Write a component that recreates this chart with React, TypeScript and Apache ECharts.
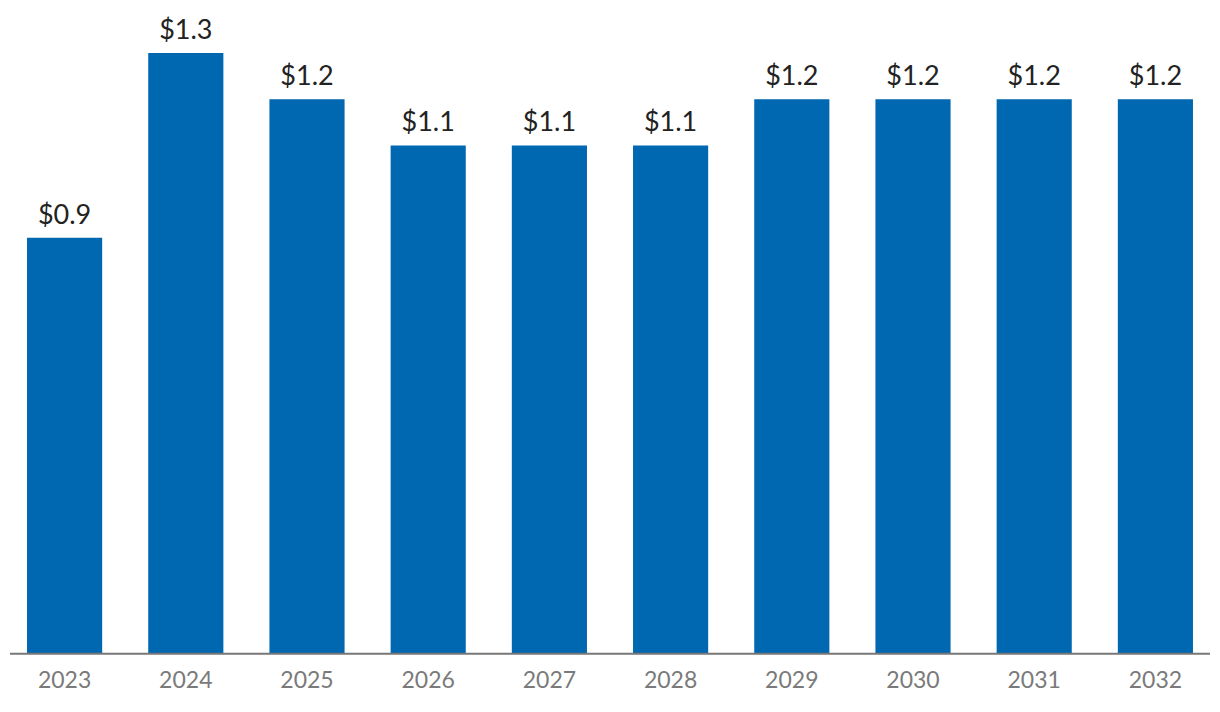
import React, { useEffect, useRef } from "react";
import * as echarts from "echarts";

const years = ["2023", "2024", "2025", "2026", "2027", "2028", "2029", "2030", "2031", "2032"];
const values = [0.9, 1.3, 1.2, 1.1, 1.1, 1.1, 1.2, 1.2, 1.2, 1.2];

export default function App() {
  const ref = useRef<HTMLDivElement>(null);
  useEffect(() => {
    if (!ref.current) return;
    const chart = echarts.init(ref.current, null, { renderer: "svg" });
    chart.setOption({
      animation: false,
      grid: { left: 4, right: 4, top: 53, bottom: 58.5, containLabel: false },
      xAxis: {
        type: "category",
        data: years,
        axisLine: { show: false },
        axisTick: { show: false },
        axisLabel: { color: "#7a7a7a", fontFamily: "Lato", fontSize: 23, margin: 14 },
      },
      yAxis: { type: "value", min: 0, max: 1.3, show: false, splitLine: { show: false } },
      graphic: [
        {
          type: "line",
          shape: { x1: 10, y1: 653.7, x2: 1210, y2: 653.7 },
          style: { stroke: "#777777", lineWidth: 2 },
          z: 10,
        },
      ],
      series: [
        {
          type: "bar",
          data: values,
          barWidth: "62%",
          itemStyle: { color: "#0067B1" },
          label: {
            show: true,
            position: "top",
            distance: 11,
            color: "#222222",
            fontFamily: "Lato",
            fontSize: 27,
            formatter: (p: any) => "$" + p.value.toFixed(1),
          },
        },
      ],
    });
    return () => chart.dispose();
  }, []);
  return <div ref={ref} style={{ width: 1220, height: 712, position: "absolute", left: 0, top: 0 }} />;
}
